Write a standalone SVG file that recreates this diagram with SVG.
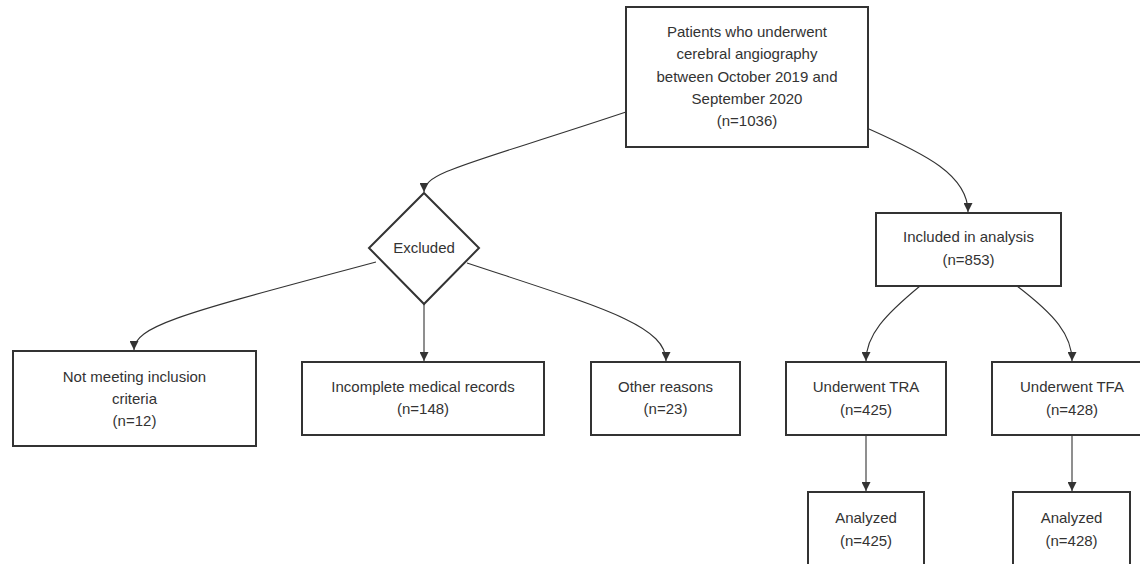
<svg xmlns="http://www.w3.org/2000/svg" width="1140" height="564" viewBox="0 0 1140 564">
<style>
.node rect,.node polygon{fill:#ffffff;stroke:#333333;stroke-width:2}
.node text{font-family:"Liberation Sans",Arial,sans-serif;font-size:15px;fill:#333333;text-anchor:middle}
.edges path{fill:none;stroke:#333333;stroke-width:1.1}
</style>
<defs>
<marker id="arrow" viewBox="0 0 10 10" refX="10" refY="5" markerWidth="9" markerHeight="9" markerUnits="userSpaceOnUse" orient="auto">
<path d="M0,0 L10,5 L0,10 z" fill="#333333"/>
</marker>
</defs>
<rect width="1140" height="564" fill="#ffffff"/>
<g class="edges">
<path d="M626,112 C470,164 424,172 424,192" marker-end="url(#arrow)"/>
<path d="M869,129 C925,154 968,175 968,212" marker-end="url(#arrow)"/>
<path d="M376,262 C190,312 134,325 134,350" marker-end="url(#arrow)"/>
<path d="M424,304 L424,361" marker-end="url(#arrow)"/>
<path d="M467,263 C600,307 666,325 666,361" marker-end="url(#arrow)"/>
<path d="M920,286 C885,315 866,335 866,361" marker-end="url(#arrow)"/>
<path d="M1017,286 C1055,315 1072,335 1072,361" marker-end="url(#arrow)"/>
<path d="M866,435 L866,491" marker-end="url(#arrow)"/>
<path d="M1072,435 L1072,491" marker-end="url(#arrow)"/>
</g>
<g id="start" class="node">
<rect x="626" y="7" width="242" height="140"/>
<text x="747" y="37">Patients who underwent</text>
<text x="747" y="59">cerebral angiography</text>
<text x="747" y="82">between October 2019 and</text>
<text x="747" y="104">September 2020</text>
<text x="747" y="126">(n=1036)</text>
</g>
<g id="excluded" class="node">
<polygon points="424,193 479,248 424,304 369,248"/>
<text x="424" y="253">Excluded</text>
</g>
<g id="notmeeting" class="node">
<rect x="13" y="351" width="243" height="95"/>
<text x="134.5" y="382">Not meeting inclusion</text>
<text x="134.5" y="404">criteria</text>
<text x="134.5" y="426">(n=12)</text>
</g>
<g id="incomplete" class="node">
<rect x="302" y="362" width="242" height="73"/>
<text x="423" y="392">Incomplete medical records</text>
<text x="423" y="414">(n=148)</text>
</g>
<g id="other" class="node">
<rect x="591" y="362" width="149" height="73"/>
<text x="665.5" y="392">Other reasons</text>
<text x="665.5" y="414">(n=23)</text>
</g>
<g id="included" class="node">
<rect x="876" y="213" width="185" height="73"/>
<text x="968.5" y="242">Included in analysis</text>
<text x="968.5" y="265">(n=853)</text>
</g>
<g id="tra" class="node">
<rect x="786" y="362" width="160" height="73"/>
<text x="866" y="392">Underwent TRA</text>
<text x="866" y="415">(n=425)</text>
</g>
<g id="tfa" class="node">
<rect x="992" y="362" width="160" height="73"/>
<text x="1072" y="392">Underwent TFA</text>
<text x="1072" y="415">(n=428)</text>
</g>
<g id="analyzedTRA" class="node">
<rect x="808" y="492" width="116" height="85"/>
<text x="866" y="523">Analyzed</text>
<text x="866" y="546">(n=425)</text>
</g>
<g id="analyzedTFA" class="node">
<rect x="1013" y="492" width="117" height="85"/>
<text x="1071.5" y="523">Analyzed</text>
<text x="1071.5" y="546">(n=428)</text>
</g>
</svg>
